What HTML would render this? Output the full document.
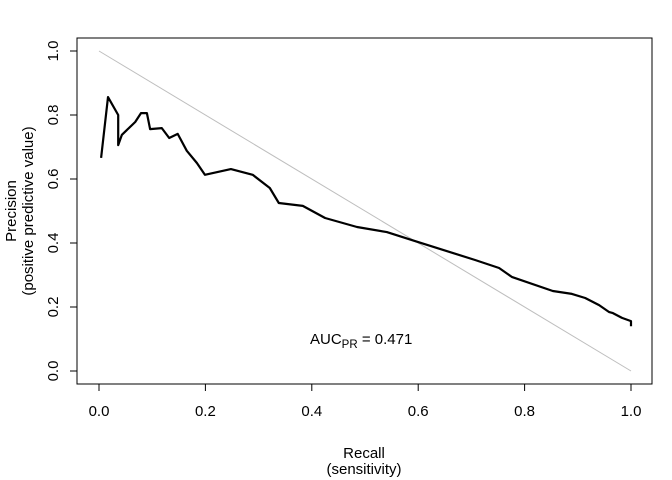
<!DOCTYPE html>
<html><head><meta charset="utf-8"><style>
body{margin:0;background:#fff}
svg{display:block;font-family:"Liberation Sans",sans-serif}
</style></head><body>
<svg id="c" width="672" height="480" viewBox="0 0 672 480">
<rect x="77" y="38" width="575" height="346" fill="none" stroke="#000" stroke-width="1"/>
<text x="364" y="458" font-size="15" text-anchor="middle">Recall</text>
<text x="364" y="474" font-size="15" text-anchor="middle">(sensitivity)</text>
<text transform="translate(16,211) rotate(-90)" font-size="15" text-anchor="middle">Precision</text>
<text transform="translate(33,211) rotate(-90)" font-size="15" text-anchor="middle">(positive predictive value)</text>
<text x="310" y="344" font-size="15">AUC<tspan font-size="11.5" dy="4">PR</tspan><tspan dy="-4"> = 0.471</tspan></text>
</svg>
<script>
const recall=[0.004,0.017,0.036,0.036,0.043,0.068,0.079,0.09,0.096,0.118,0.132,0.148,0.165,0.184,0.199,0.248,0.289,0.321,0.338,0.383,0.425,0.485,0.541,0.594,0.707,0.752,0.776,0.853,0.889,0.914,0.94,0.959,0.966,0.983,1,1];
const precision=[0.666,0.856,0.80,0.706,0.738,0.778,0.806,0.806,0.756,0.759,0.728,0.741,0.688,0.65,0.613,0.631,0.613,0.572,0.525,0.516,0.478,0.45,0.434,0.406,0.347,0.322,0.294,0.25,0.241,0.228,0.206,0.184,0.181,0.166,0.156,0.14];
const xTicks=[0,0.2,0.4,0.6,0.8,1.0];
const xTickLabels=["0.0","0.2","0.4","0.6","0.8","1.0"];
const yTicks=[0,0.2,0.4,0.6,0.8,1.0];
const yTickLabels=["0.0","0.2","0.4","0.6","0.8","1.0"];
const svg=document.getElementById('c');
const NS='http://www.w3.org/2000/svg';
const sx=v=>99+v*532, sy=v=>371-v*320;
function mk(tag,attrs){const e=document.createElementNS(NS,tag);for(const k in attrs)e.setAttribute(k,attrs[k]);svg.appendChild(e);return e;}
let d=mk('line',{x1:sx(0),y1:sy(1),x2:sx(1),y2:sy(0),stroke:'#bebebe','stroke-width':1});


let xa=mk('line',{x1:sx(xTicks[0]),y1:384,x2:sx(xTicks[xTicks.length-1]),y2:384,stroke:'#000'});


xTicks.forEach((t,i)=>{
  let l=mk('line',{x1:sx(t),y1:384,x2:sx(t),y2:391,stroke:'#000'});
  
  
  let tx=mk('text',{x:sx(t),y:416,'font-size':15,'text-anchor':'middle'});tx.textContent=xTickLabels[i];
  
  
});
let ya=mk('line',{x1:77,y1:sy(yTicks[0]),x2:77,y2:sy(yTicks[yTicks.length-1]),stroke:'#000'});


yTicks.forEach((t,i)=>{
  let l=mk('line',{x1:70,y1:sy(t),x2:77,y2:sy(t),stroke:'#000'});
  
  
  let tx=mk('text',{transform:`translate(58,${sy(t)}) rotate(-90)`,'font-size':15,'text-anchor':'middle'});tx.textContent=yTickLabels[i];
  
  
});
let pts=recall.map((r,i)=>sx(r).toFixed(1)+','+sy(precision[i]).toFixed(1)).join(' ');
let pl=mk('polyline',{points:pts,fill:'none',stroke:'#000','stroke-width':2.2,'stroke-linejoin':'round'});


</script>
</body></html>
